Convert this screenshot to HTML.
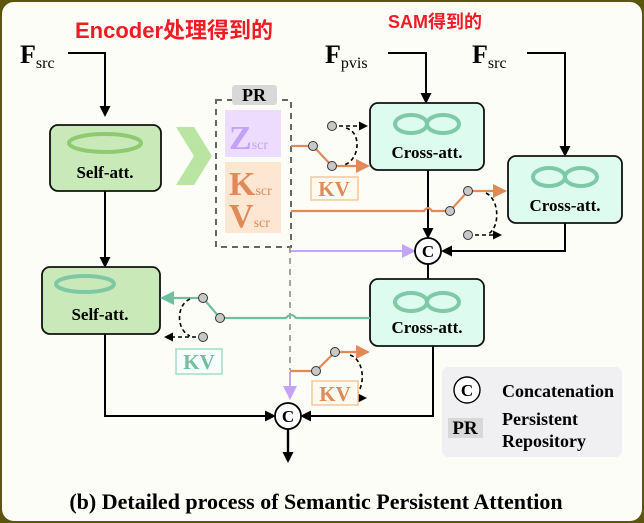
<!DOCTYPE html>
<html><head><meta charset="utf-8"><style>
html,body{margin:0;padding:0;background:#5c5510;}
svg{display:block}
.t{font-family:"Liberation Serif",serif;font-weight:bold}
</style></head><body>
<svg width="644" height="523" viewBox="0 0 644 523" xmlns="http://www.w3.org/2000/svg">
<defs>
<marker id="ab" markerWidth="11" markerHeight="11" refX="9" refY="5.5" orient="auto" markerUnits="userSpaceOnUse"><path d="M0,0 L11,5.5 L0,11 z" fill="#000"/></marker>
<marker id="ao" markerWidth="14" markerHeight="14" refX="12" refY="7" orient="auto" markerUnits="userSpaceOnUse"><path d="M0,0 L14,7 L0,14 z" fill="#e08a58"/></marker>
<marker id="at" markerWidth="14" markerHeight="14" refX="12" refY="7" orient="auto" markerUnits="userSpaceOnUse"><path d="M0,0 L14,7 L0,14 z" fill="#70c0a0"/></marker>
<marker id="ap" markerWidth="14" markerHeight="14" refX="12" refY="7" orient="auto" markerUnits="userSpaceOnUse"><path d="M0,0 L14,7 L0,14 z" fill="#c4a4fa"/></marker>
<marker id="ad" markerWidth="9" markerHeight="9" refX="7" refY="4.5" orient="auto" markerUnits="userSpaceOnUse"><path d="M0,0 L9,4.5 L0,9 z" fill="#000"/></marker>
</defs>
<rect x="2" y="2" width="640" height="519" rx="12" fill="#fdfdf7"/>
<text x="75" y="38" font-family="Liberation Sans,'Noto Sans CJK SC',sans-serif" font-weight="bold" font-size="22" fill="#ee1c24">Encoder处理得到的</text>
<text x="388" y="28" font-family="Liberation Sans,'Noto Sans CJK SC',sans-serif" font-weight="bold" font-size="18" fill="#ee1c24">SAM得到的</text>
<text class="t" x="20" y="63" font-size="26">F<tspan font-size="16" font-weight="normal" dy="5">src</tspan></text>
<text class="t" x="325" y="63" font-size="26">F<tspan font-size="16" font-weight="normal" dy="5">pvis</tspan></text>
<text class="t" x="472" y="63" font-size="26">F<tspan font-size="16" font-weight="normal" dy="5">src</tspan></text>
<g stroke="#000" stroke-width="2" fill="none">
<path d="M68,53 H105 V115" marker-end="url(#ab)"/>
<path d="M388,53 H426 V102" marker-end="url(#ab)"/>
<path d="M527,53 H565 V155" marker-end="url(#ab)"/>
<path d="M105,191 V266" marker-end="url(#ab)"/>
<path d="M428,170 V237" marker-end="url(#ab)"/>
<path d="M565,223 V251 H443" marker-end="url(#ab)"/>
<path d="M428,264 V279"/>
<path d="M105,334 V416 H274" marker-end="url(#ab)"/>
<path d="M433,346 V416 H302" marker-end="url(#ab)"/>
<path d="M288,429 V461" stroke-width="2.4" marker-end="url(#ab)"/>
</g>
<rect x="50" y="125" width="111" height="66" rx="8" fill="#c9eab8" stroke="#111" stroke-width="1.8"/>
<ellipse cx="105" cy="143" rx="36" ry="9" fill="none" stroke="#8fca72" stroke-width="4"/>
<text class="t" x="105" y="178" font-size="17" text-anchor="middle">Self-att.</text>
<path d="M176,127 L194,127 L212,156 L194,185 L176,185 L194,156 z" fill="#b9e4a2"/>
<rect x="216" y="100" width="75" height="147" fill="none" stroke="#666" stroke-width="2" stroke-dasharray="6,5"/>
<rect x="232" y="85" width="45" height="20" rx="3" fill="#d8d8d8"/>
<text class="t" x="254" y="101" font-size="18" text-anchor="middle">PR</text>
<rect x="225" y="110" width="56" height="47" fill="#eedcff"/>
<text class="t" x="229" y="149" font-size="34" fill="#c2a2f8">Z<tspan font-size="14" font-weight="normal">scr</tspan></text>
<rect x="225" y="162" width="56" height="71" fill="#fde6d2"/>
<text class="t" x="229" y="195" font-size="34" fill="#df8a58">K<tspan font-size="14" font-weight="normal">scr</tspan></text>
<text class="t" x="229" y="227" font-size="34" fill="#df8a58">V<tspan font-size="14" font-weight="normal">scr</tspan></text>
<g fill="#ddfbef" stroke="#111" stroke-width="1.8">
<rect x="370" y="103" width="114" height="67" rx="8"/>
<rect x="508" y="156" width="114" height="67" rx="8"/>
<rect x="370" y="279" width="114" height="67" rx="8"/>
</g>
<g fill="none" stroke="#7ecaa8" stroke-width="4">
<ellipse cx="411" cy="124" rx="16" ry="9"/><ellipse cx="443" cy="124" rx="16" ry="9"/>
<ellipse cx="549" cy="177" rx="16" ry="9"/><ellipse cx="581" cy="177" rx="16" ry="9"/>
<ellipse cx="411" cy="302" rx="16" ry="9"/><ellipse cx="443" cy="302" rx="16" ry="9"/>
</g>
<text class="t" x="427" y="158" font-size="17" text-anchor="middle">Cross-att.</text>
<text class="t" x="565" y="211" font-size="17" text-anchor="middle">Cross-att.</text>
<text class="t" x="427" y="333" font-size="17" text-anchor="middle">Cross-att.</text>
<rect x="42" y="267" width="118" height="67" rx="8" fill="#c9eab8" stroke="#111" stroke-width="1.8"/>
<ellipse cx="85" cy="284" rx="29" ry="8" fill="none" stroke="#80c8a4" stroke-width="4"/>
<text class="t" x="100" y="320" font-size="17" text-anchor="middle">Self-att.</text>
<path d="M291,251 H414" stroke="#c4a4fa" stroke-width="2" fill="none" marker-end="url(#ap)"/>
<path d="M290,247 V370" stroke="#888" stroke-width="1.5" stroke-dasharray="6,5" fill="none"/>
<path d="M290,372 V398" stroke="#c4a4fa" stroke-width="2" fill="none" marker-end="url(#ap)"/>
<g stroke="#e08a58" stroke-width="2.2" fill="none">
<path d="M291,146 H313 L332,166 H368" marker-end="url(#ao)"/>
<path d="M291,211 H424 q4,-6 8,0 H450 L468,191 H505" marker-end="url(#ao)"/>
<path d="M290,371 H316 L335,352 H368" marker-end="url(#ao)"/>
</g>
<g stroke="#70c0a0" stroke-width="2.2" fill="none">
<path d="M370,318 H296 q-5,-6 -10,0 H220 L203,298 H162" marker-end="url(#at)"/>
</g>
<g stroke="#000" stroke-width="1.6" fill="none" stroke-dasharray="4,3">
<path d="M332,126 H366" marker-end="url(#ad)"/><path d="M346,128 C362,132 360,160 344,165"/>
<path d="M468,235 H500" marker-end="url(#ad)"/><path d="M486,193 C500,200 500,228 488,234"/>
<path d="M335,398 H365" marker-end="url(#ad)"/><path d="M350,355 C366,360 366,392 352,397"/>
<path d="M203,337 H166" marker-end="url(#ad)"/><path d="M190,299 C176,305 176,330 190,336"/>
</g>
<g fill="#c8c8c8" stroke="#333" stroke-width="1">
<circle cx="313" cy="146" r="4.5"/><circle cx="332" cy="166" r="4.5"/><circle cx="332" cy="126" r="4.5"/>
<circle cx="450" cy="211" r="4.5"/><circle cx="468" cy="191" r="4.5"/><circle cx="468" cy="235" r="4.5"/>
<circle cx="316" cy="371" r="4.5"/><circle cx="335" cy="352" r="4.5"/><circle cx="335" cy="398" r="4.5"/>
<circle cx="220" cy="318" r="4.5"/><circle cx="203" cy="298" r="4.5"/><circle cx="203" cy="337" r="4.5"/>
</g>
<rect x="311" y="177" width="47" height="23" fill="#fffaf0" stroke="#f5c898" stroke-width="1.5"/>
<text class="t" x="334" y="196" font-size="21" fill="#df8a58" text-anchor="middle">KV</text>
<rect x="176" y="349" width="46" height="25" fill="#f6fffb" stroke="#a6dcc4" stroke-width="1.5"/>
<text class="t" x="199" y="369" font-size="21" fill="#70c0a0" text-anchor="middle">KV</text>
<rect x="312" y="381" width="46" height="24" fill="#fffaf0" stroke="#f5c898" stroke-width="1.5"/>
<text class="t" x="335" y="401" font-size="21" fill="#df8a58" text-anchor="middle">KV</text>
<g fill="#fff" stroke="#000" stroke-width="1.8">
<circle cx="428" cy="251" r="13"/><circle cx="288" cy="416" r="13"/>
</g>
<text class="t" x="428" y="257" font-size="17" text-anchor="middle">C</text>
<text class="t" x="288" y="422" font-size="17" text-anchor="middle">C</text>
<rect x="442" y="367" width="180" height="90" rx="6" fill="#f0f0f3"/>
<circle cx="467" cy="390" r="13" fill="#fff" stroke="#000" stroke-width="1.4"/>
<text class="t" x="467" y="396" font-size="17" text-anchor="middle">C</text>
<text class="t" x="502" y="397" font-size="18">Concatenation</text>
<rect x="448" y="418" width="35" height="20" fill="#d8d8d8"/>
<text class="t" x="465" y="434" font-size="19" text-anchor="middle">PR</text>
<text class="t" x="502" y="425" font-size="18">Persistent</text>
<text class="t" x="502" y="447" font-size="18">Repository</text>
<text class="t" x="316" y="509" font-size="22" text-anchor="middle">(b) Detailed process of Semantic Persistent Attention</text>
</svg>
</body></html>
